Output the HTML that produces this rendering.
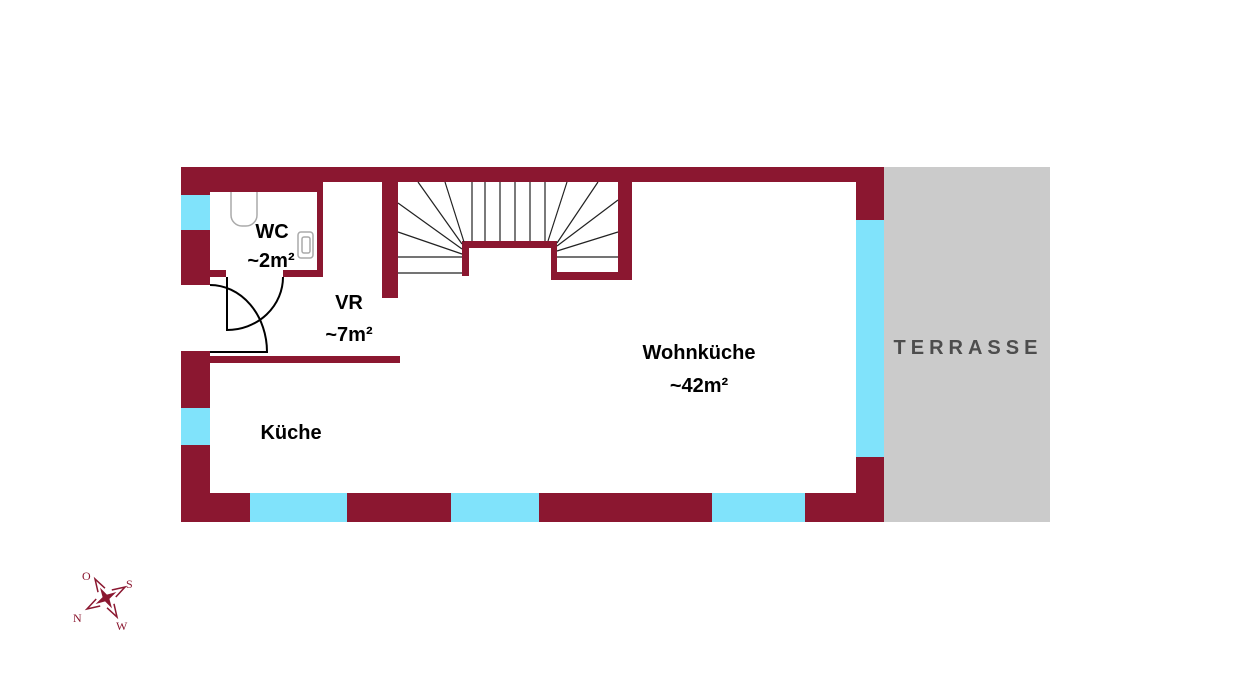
<!DOCTYPE html>
<html><head><meta charset="utf-8"><style>
html,body{margin:0;padding:0;background:#fff;}
svg{display:block;}
text{font-family:"Liberation Sans",sans-serif;font-weight:bold;}
</style></head><body>
<svg width="1236" height="700" viewBox="0 0 1236 700" xmlns="http://www.w3.org/2000/svg">
<rect x="884" y="167" width="166" height="355" fill="#cbcbcb"/>
<text x="968" y="354" font-size="20" fill="#4d4d4d" text-anchor="middle" letter-spacing="5">TERRASSE</text>
<g fill="#8b1730">
<rect x="181" y="167" width="703" height="15"/>
<rect x="181" y="167" width="29" height="118"/>
<rect x="181" y="351" width="29" height="171"/>
<rect x="856" y="167" width="28" height="355"/>
<rect x="181" y="493" width="703" height="29"/>
<rect x="210" y="182" width="113" height="10"/>
<rect x="317" y="182" width="6" height="95"/>
<rect x="283" y="270" width="40" height="7"/>
<rect x="210" y="270" width="16" height="7"/>
<rect x="210" y="356" width="190" height="7"/>
<rect x="382" y="182" width="16" height="116"/>
<rect x="618" y="182" width="14" height="98"/>
<rect x="462" y="241" width="95" height="7"/>
<rect x="462" y="241" width="7" height="35"/>
<rect x="551" y="241" width="6" height="39"/>
<rect x="551" y="272" width="81" height="8"/>
</g>
<g fill="#80e3fb">
<rect x="181" y="195" width="29" height="35"/>
<rect x="181" y="408" width="29" height="37"/>
<rect x="856" y="220" width="28" height="237"/>
<rect x="250" y="493" width="97" height="29"/>
<rect x="451" y="493" width="88" height="29"/>
<rect x="712" y="493" width="93" height="29"/>
</g>
<g stroke="#222" stroke-width="1.2" fill="none">
<line x1="398" y1="257" x2="462" y2="257"/>
<line x1="398" y1="273" x2="462" y2="273"/>
<line x1="398" y1="232" x2="462" y2="254"/>
<line x1="398" y1="203" x2="462" y2="249"/>
<line x1="418" y1="182" x2="462" y2="244"/>
<line x1="445" y1="182" x2="464" y2="242"/>
<line x1="472" y1="182" x2="472" y2="241"/>
<line x1="485" y1="182" x2="485" y2="241"/>
<line x1="500" y1="182" x2="500" y2="241"/>
<line x1="515" y1="182" x2="515" y2="241"/>
<line x1="530" y1="182" x2="530" y2="241"/>
<line x1="545" y1="182" x2="545" y2="241"/>
<line x1="567" y1="182" x2="548" y2="241"/>
<line x1="598" y1="182" x2="557" y2="243"/>
<line x1="618" y1="200" x2="557" y2="246"/>
<line x1="618" y1="232" x2="557" y2="251"/>
<line x1="557" y1="257" x2="618" y2="257"/>
</g>
<g stroke="#000" stroke-width="2" fill="none">
<path d="M227 277 V330 A56 53 0 0 0 283 277"/>
<path d="M210 352 H267 A57 67 0 0 0 210 285"/>
</g>
<g stroke="#aaa" stroke-width="1.5" fill="none">
<path d="M231 192 V215 A11 11 0 0 0 242 226 H246 A11 11 0 0 0 257 215 V192"/>
<rect x="298" y="232" width="15" height="26" rx="3"/>
<rect x="302" y="237" width="8" height="16" rx="2"/>
</g>
<g fill="#000" font-size="20" text-anchor="middle">
<text x="272" y="238">WC</text>
<text x="271" y="267">~2m²</text>
<text x="349" y="309">VR</text>
<text x="349" y="341">~7m²</text>
<text x="699" y="359">Wohnküche</text>
<text x="699" y="392">~42m²</text>
<text x="291" y="439">Küche</text>
</g>
<g transform="translate(106,598) rotate(-30)">
<polygon points="0,-12 2.5,-2.5 12,0 2.5,2.5 0,12 -2.5,2.5 -12,0 -2.5,-2.5" fill="#8b1730"/>
<g stroke="#8b1730" stroke-width="1.5" fill="none">
<path d="M-4,-9 L0,-22 L4,-9"/><path d="M-4,9 L0,22 L4,9"/>
<path d="M-9,-4 L-22,0 L-9,4"/><path d="M9,-4 L22,0 L9,4"/>
</g>
</g>
<g fill="#8b1730" font-size="12">
<text x="82" y="580" style="font-family:'Liberation Serif',serif;font-weight:normal">O</text>
<text x="126" y="588" style="font-family:'Liberation Serif',serif;font-weight:normal">S</text>
<text x="73" y="622" style="font-family:'Liberation Serif',serif;font-weight:normal">N</text>
<text x="116" y="630" style="font-family:'Liberation Serif',serif;font-weight:normal">W</text>
</g>
</svg>
</body></html>
